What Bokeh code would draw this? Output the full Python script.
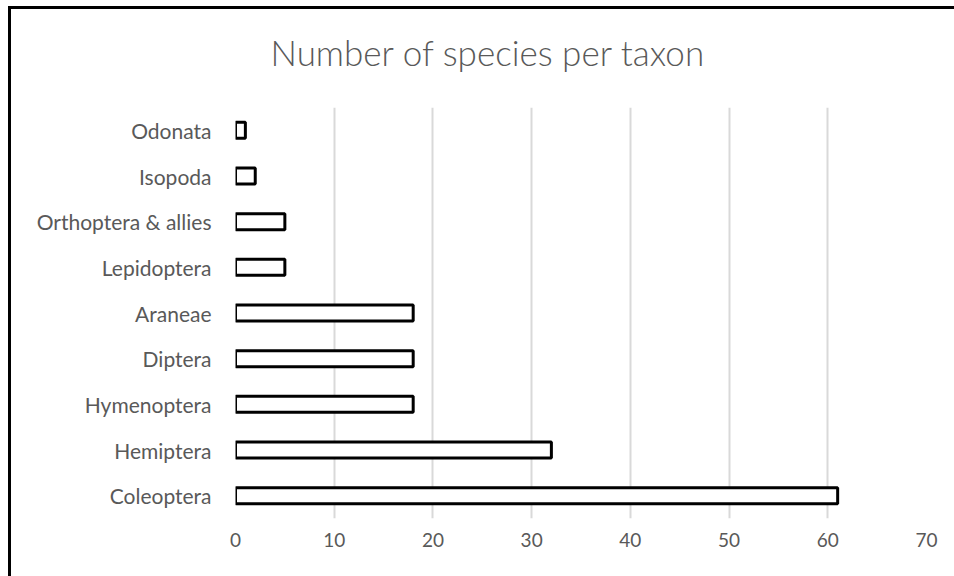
from bokeh.plotting import figure
from bokeh.models import Title, FixedTicker
from bokeh.embed import file_html
from bokeh.resources import INLINE

taxa = ["Coleoptera", "Hemiptera", "Hymenoptera", "Diptera", "Araneae",
        "Lepidoptera", "Orthoptera & allies", "Isopoda", "Odonata"]
species = [61, 32, 18, 18, 18, 5, 5, 2, 1]
x_ticks = [0, 10, 20, 30, 40, 50, 60, 70]
title_text = "Number of species per taxon"

FONT = "Lato"
GRAY = "#595959"

p = figure(y_range=taxa, x_range=(0, 70), width=943, height=567,
           frame_width=691, frame_height=411,
           min_border_left=224, min_border_right=28, min_border_top=98, min_border_bottom=58,
           output_backend="svg", toolbar_location=None)

# empty spacer between the frame and the title
p.add_layout(Title(text=" ", text_font_size="2px", standoff=30, text_color="white"), "above")

p.title = Title(text=title_text, align="left", offset=35, vertical_align="middle",
                standoff=0, text_font="Lato Light, Lato", text_font_size="35px",
                text_font_style="normal", text_color=GRAY)

p.hbar(y=taxa, right=species, left=0, height=0.35,
       fill_color="white", line_color="black", line_width=3)

p.outline_line_color = None
p.xaxis.ticker = FixedTicker(ticks=x_ticks)
p.xaxis.axis_line_color = None
p.xaxis.major_tick_line_color = None
p.xaxis.minor_tick_line_color = None
p.xaxis.major_label_text_font = FONT
p.xaxis.major_label_text_font_size = "19px"
p.xaxis.major_label_text_color = GRAY
p.xaxis.major_label_standoff = 8

p.yaxis.axis_line_color = None
p.yaxis.major_tick_line_color = None
p.yaxis.major_label_text_font = FONT
p.yaxis.major_label_text_font_size = "21px"
p.yaxis.major_label_text_color = GRAY
p.yaxis.major_label_standoff = 18

p.ygrid.grid_line_color = None
p.xgrid.grid_line_color = "#d9d9d9"
p.xgrid.grid_line_width = 2

p.styles = {"border-top": "3px solid black", "border-left": "3px solid black",
            "margin-left": "8px", "margin-top": "6px"}

open("out.html", "w").write(file_html(p, INLINE))
